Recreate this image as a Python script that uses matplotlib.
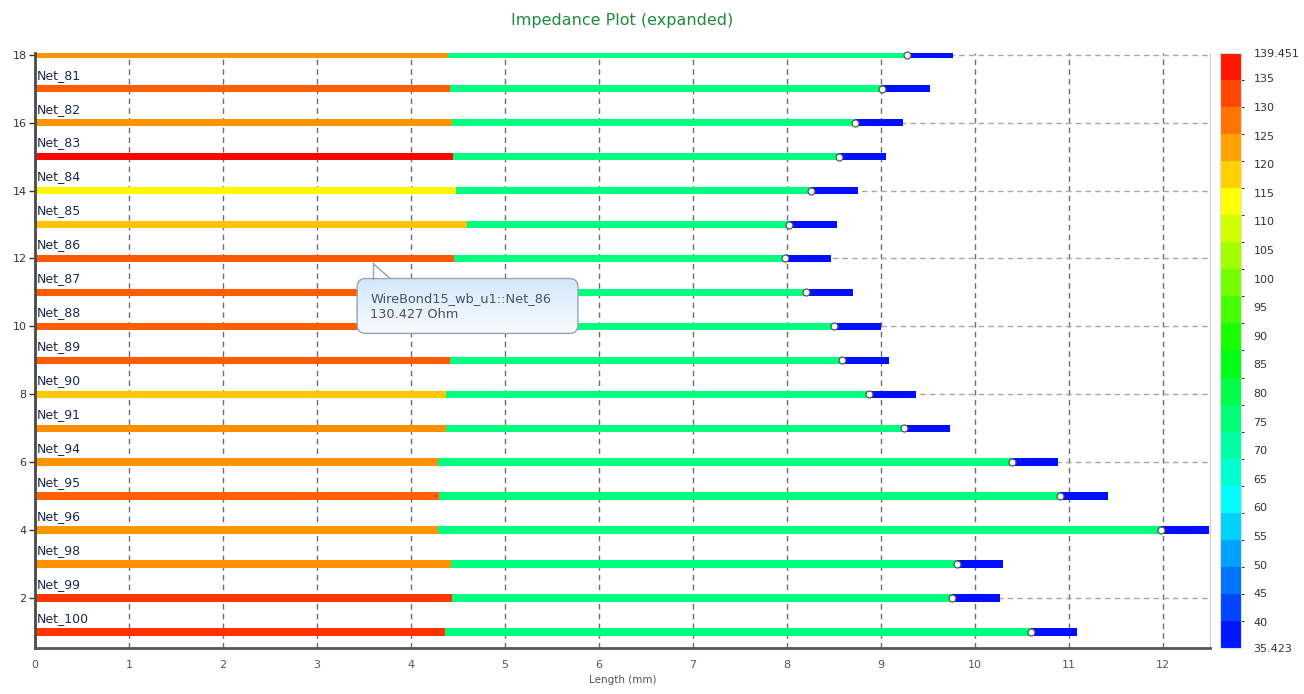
import colorsys
import numpy as np
import matplotlib
matplotlib.use("Agg")
import matplotlib.pyplot as plt
from matplotlib.colors import ListedColormap, BoundaryNorm
from matplotlib.cm import ScalarMappable
from matplotlib.patches import FancyBboxPatch, Polygon

# ---- data (rows listed bottom to top, y = 1..18) ----
nets = ["Net_100", "Net_99", "Net_98", "Net_96", "Net_95", "Net_94", "Net_91",
        "Net_90", "Net_89", "Net_88", "Net_87", "Net_86", "Net_85", "Net_84",
        "Net_83", "Net_82", "Net_81", None]

# segment boundaries along each trace (mm)
split_mm = [4.36, 4.44, 4.43, 4.29, 4.30, 4.29, 4.37, 4.37, 4.42, 4.42, 4.44,
            4.46, 4.60, 4.48, 4.45, 4.44, 4.42, 4.39]
probe_mm = [10.60, 9.76, 9.81, 11.98, 10.90, 10.39, 9.24, 8.87, 8.59, 8.50,
            8.20, 7.98, 8.02, 8.26, 8.55, 8.72, 9.01, 9.28]
total_mm = [11.09, 10.27, 10.30, 12.49, 11.41, 10.88, 9.73, 9.37, 9.09, 9.00,
            8.70, 8.47, 8.53, 8.76, 9.05, 9.23, 9.52, 9.77]

# impedance of each segment (Ohm)
z_first = [134.4, 134.0, 124.8, 124.2, 129.6, 124.6, 124.9, 119.2, 130.1,
           129.9, 130.2, 130.427, 119.6, 114.3, 138.9, 124.5, 129.8, 124.3]
z_mid = [74.6, 74.6, 74.6, 74.6, 74.6, 74.6, 74.6, 74.6, 74.6, 74.6, 74.6,
         74.6, 74.6, 74.6, 74.6, 74.6, 74.6, 74.6]
z_last = [37.0, 37.0, 37.0, 37.0, 37.0, 37.0, 37.0, 37.0, 37.0, 37.0, 37.0,
          37.0, 37.0, 37.0, 37.0, 37.0, 37.0, 37.0]

z_min, z_max = 35.423, 139.451
cbar_ticks = [35.423, 40, 45, 50, 55, 60, 65, 70, 75, 80, 85, 90, 95, 100,
              105, 110, 115, 120, 125, 130, 135, 139.451]
hover_row = 11  # Net_86


def z_color(z):
    """Blue (low) to red (high) hue ramp."""
    frac = (z_max - z) / (z_max - z_min)
    frac = min(max(frac, 0.0), 1.0)
    return colorsys.hsv_to_rgb(frac * 240.0 / 360.0, 1.0, 1.0)


W, H = 1304, 694
fig = plt.figure(figsize=(W / 100, H / 100), dpi=100)
fig.patch.set_facecolor("white")

ax_l, ax_r, ax_t, ax_b = 35, 1210, 53, 648
ax = fig.add_axes([ax_l / W, 1 - ax_b / H, (ax_r - ax_l) / W, (ax_b - ax_t) / H])
ax.set_xlim(0, 12.5)
ax.set_ylim(0.53, 18.05)

# grid
for xv in range(0, 13):
    ax.axvline(xv, color="#6e6e6e", lw=1.0, ls=(0, (4, 3)), zorder=1)
for yv in range(2, 19, 2):
    ax.axhline(yv, color="#a8a8a8", lw=1.0, ls=(0, (4, 3)), zorder=1)

bar_h = 0.22
ys = np.arange(1, len(nets) + 1)
for i, y in enumerate(ys):
    ax.barh(y, split_mm[i], left=0, height=bar_h, color=z_color(z_first[i]),
            lw=0, zorder=2)
    ax.barh(y, probe_mm[i] - split_mm[i], left=split_mm[i], height=bar_h,
            color=z_color(z_mid[i]), lw=0, zorder=2)
    ax.barh(y, total_mm[i] - probe_mm[i], left=probe_mm[i], height=bar_h,
            color=z_color(z_last[i]), lw=0, zorder=2)
    ax.plot(probe_mm[i], y, marker="o", ms=5, mfc="white", mec="#555555",
            mew=0.9, zorder=4, clip_on=False)
    if nets[i]:
        ax.text(0.02, y + 0.40, nets[i], fontsize=9, color="#1c2a48",
                va="center", ha="left", zorder=5)

# axes styling
ax.set_yticks(range(2, 19, 2))
ax.set_xticks(range(0, 13))
ax.tick_params(axis="y", length=4, width=1, color="#333333", labelsize=8,
               labelcolor="#333333", pad=2)
ax.tick_params(axis="x", length=0, labelsize=8, labelcolor="#555555", pad=9)
ax.spines["top"].set_visible(False)
ax.spines["right"].set_color("#cfcfcf")
ax.spines["left"].set_color("#4a4a4a")
ax.spines["left"].set_linewidth(2)
ax.spines["bottom"].set_color("#555555")
ax.spines["bottom"].set_linewidth(2)
ax.set_xlabel("Length (mm)", fontsize=7.5, color="#555555", labelpad=3)

fig.text((ax_l + ax_r) / 2 / W, 1 - 20 / H, "Impedance Plot (expanded)",
         fontsize=11.5, color="#1e8a3c", ha="center", va="center")

# tooltip for the hovered trace
yh = ys[hover_row]
bx0, bx1, by0, by1 = 3.427, 5.776, 9.794, 11.41
box = FancyBboxPatch((bx0, by0), bx1 - bx0, by1 - by0,
                     boxstyle="round,pad=0,rounding_size=0.09",
                     mutation_aspect=94.0 / 34.0,
                     fc="none", ec="#9aa4b0", lw=1.0, zorder=7)
ax.add_patch(box)
grad = np.linspace(0, 1, 64)[:, None]
grad_cmap = ListedColormap(np.linspace([0.97, 0.985, 1.0], [0.83, 0.91, 0.98], 64))
im = ax.imshow(grad, extent=(bx0, bx1, by1, by0), cmap=grad_cmap,
               aspect="auto", zorder=6, interpolation="bilinear")
im.set_clip_path(box)
tip = Polygon([(3.597, yh - 0.147), (3.597, by1 + 0.02), (3.778, by1 + 0.02)],
              closed=True, fc="#f6f9fd", ec="none", zorder=8)
ax.add_patch(tip)
ax.plot([3.597, 3.597], [yh - 0.147, by1], color="#9aa4b0", lw=1.0, zorder=9)
ax.plot([3.597, 3.778], [yh - 0.147, by1], color="#9aa4b0", lw=1.0, zorder=9)
ax.text(3.565, 10.82, f"WireBond15_wb_u1::{nets[hover_row]}", fontsize=9.3,
        color="#4a5260", va="center", ha="left", zorder=10)
ax.text(3.565, 10.36, f"{z_first[hover_row]:.3f} Ohm", fontsize=9.3,
        color="#4a5260", va="center", ha="left", zorder=10)
ax.set_xlim(0, 12.5)
ax.set_ylim(0.53, 18.05)

# colour bar (banded)
n_bands = 22
edges = np.linspace(z_min, z_max, n_bands + 1)
band_cols = [z_color(0.5 * (edges[k] + edges[k + 1])) for k in range(n_bands)]
cmap_b = ListedColormap(band_cols)
norm_b = BoundaryNorm(edges, n_bands)
cax = fig.add_axes([1220 / W, 1 - 648 / H, 21 / W, (648 - 53) / H])
cb = fig.colorbar(ScalarMappable(norm=norm_b, cmap=cmap_b), cax=cax,
                  spacing="proportional", ticks=cbar_ticks)
cb.set_ticklabels([("%g" % t) for t in cbar_ticks])
cb.ax.tick_params(length=0, labelsize=8, labelcolor="#333333", pad=9)
cb.outline.set_edgecolor("#dddddd")
cb.outline.set_linewidth(0.8)

fig.savefig("out.png", dpi=100)
